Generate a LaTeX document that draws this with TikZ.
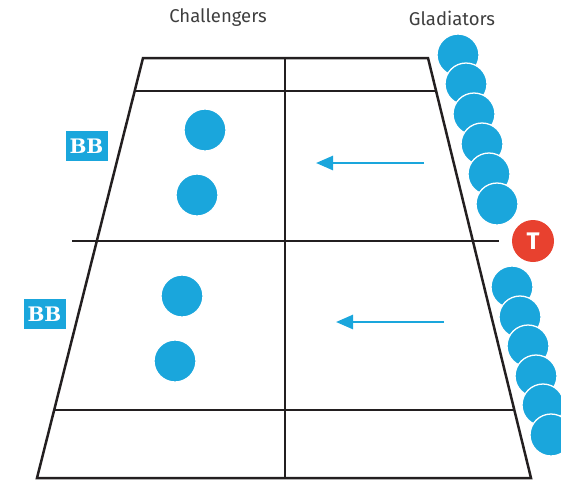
\documentclass[tikz,border=0pt]{standalone}
\usepackage{fontspec}
\setmainfont{Fira Sans}
\newfontfamily\slabfont{DejaVu Serif}
\usetikzlibrary{arrows.meta, positioning}
\definecolor{Ink}    {HTML}{231F20}
\definecolor{Sky}    {HTML}{1AA6DC}
\definecolor{Alarm}  {HTML}{E8412F}
\definecolor{TxtGrey}{HTML}{3E3E3E}

\begin{document}
\begin{tikzpicture}[
  x=1pt, y=-1pt,
  court/.style={draw=Ink, line width=2.5pt, line join=miter},
  player/.style={circle, fill=Sky, draw=white, line width=1.3pt,
                 minimum size=42pt, inner sep=0pt},
  tbox/.style={circle, fill=Alarm, minimum size=42pt, inner sep=0pt,
               text=white, font=\fontsize{24}{24}\selectfont\bfseries},
  bbox/.style={fill=Sky, text=white, minimum width=42pt, minimum height=30pt,
               inner sep=0pt, font=\slabfont\fontsize{20}{20}\selectfont\bfseries},
  team/.style={text=TxtGrey, font=\fontsize{18.5}{18.5}\selectfont},
  arr/.style={-{Triangle[length=17pt, width=14pt]}, draw=Sky, line width=2.6pt},
]
  \useasboundingbox (0,0) rectangle (561,480);

  % court corners and line ends
  \coordinate (tl) at (143,58);
  \coordinate (tr) at (428,58);
  \coordinate (bl) at (37,478);
  \coordinate (br) at (531,478);
  \coordinate (tm) at (285,58);
  \coordinate (bm) at (285,478);
  \coordinate (l1) at (134.7,91);
  \coordinate (r1) at (436.0,91);
  \coordinate (l2) at (72,241);
  \coordinate (r2) at (499,241);
  \coordinate (l3) at (54.2,410);
  \coordinate (r3) at (514.5,410);

  \draw[court] (tl) -- (tr) -- (br) -- (bl) -- cycle;
  \draw[court] (tm) -- (bm);
  \draw[court] (l1) -- (r1);
  \draw[court] (l2) -- (r2);
  \draw[court] (l3) -- (r3);

  % team labels
  \node[team] (chal) at (218,18) {Challengers};
  \node[team] (glad) at (452,18) {Gladiators};

  % challengers
  \node[player] (c1) at (205,130) {};
  \node[player] (c2) at (197,195) {};
  \node[player] (c3) at (182,296) {};
  \node[player] (c4) at (175,361) {};

  \node[bbox] (bb1) at (86.5,146) {BB};
  \node[bbox] (bb2) at (44.5,314) {BB};

  % gladiators
  \node[player] (g1)  at (458,55)  {};
  \node[player] (g2)  at (466,84)  {};
  \node[player] (g3)  at (474,114) {};
  \node[player] (g4)  at (482,144) {};
  \node[player] (g5)  at (489,174) {};
  \node[player] (g6)  at (497,204) {};

  \node[tbox] (tz) at (533,241) {T};

  \node[player] (g7)  at (512,287) {};
  \node[player] (g8)  at (520,317) {};
  \node[player] (g9)  at (528,346) {};
  \node[player] (g10) at (536,376) {};
  \node[player] (g11) at (543,405) {};
  \node[player] (g12) at (551,435) {};

  % attack arrows
  \coordinate (a1s) at (424,163);
  \coordinate (a1e) at (316,163);
  \coordinate (a2s) at (444,322);
  \coordinate (a2e) at (336,322);
  \draw[arr] (a1s) -- (a1e);
  \draw[arr] (a2s) -- (a2e);
\end{tikzpicture}
\end{document}
